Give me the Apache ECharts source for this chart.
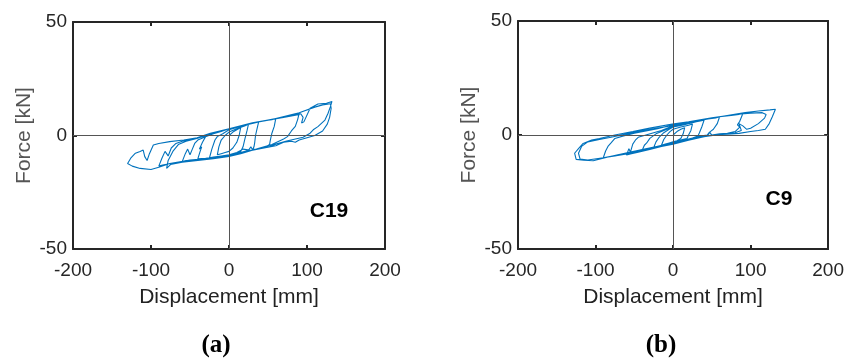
<!DOCTYPE html>
<html>
<head>
<meta charset="utf-8">
<script src="https://cdn.jsdelivr.net/npm/echarts@6/dist/echarts.min.js"></script>
<style>
html,body{margin:0;padding:0;background:#fff;}
#chart{width:847px;height:363px;}
</style>
</head>
<body>
<div id="chart"></div>
<script>
// Tick values
const xTicks = [-200, -100, 0, 100, 200];
const yTicks = [-50, 0, 50];

// Specimen C19: displacement [mm], force [kN] (hand-read path)
const c19 = [
  [0,0],[5,1.5],[10,2.5],[15,3.5],[13,0],[10,-3],[5,-5.5],[0,-7],[-5,-7.5],[-10,-8],[-15,-8.5],[-13,-5],[-10,-2],[-5,0],[0,1.5],
  [10,3],[20,4.2],[25,5],[23,2],[20,-2],[18,-5],[15,-7],[10,-7.5],[0,-8.5],[-10,-9],[-20,-9.5],[-25,-9.8],[-22,-6],[-18,-2],[-15,-0.5],[-8,0.8],[0,2.5],
  [10,3.5],[20,4.5],[30,5.3],[38,6],[36,3],[34,0],[33,-3],[32,-5],[30,-6.5],[20,-7.5],[10,-8.2],[0,-8.8],[-15,-9.5],[-30,-10],[-40,-10.3],[-37,-7],[-35,-5],[-38,-6],[-34,-3],[-30,-0.5],[-20,0.8],[-10,1.8],[0,3],
  [15,4],[30,5.5],[45,6.5],[55,7],[60,7.5],[58,4],[55,1],[53,-2],[52,-4],[45,-5.5],[35,-6],[30,-6.2],[28,-5],[25,-6.5],[15,-7.5],[0,-8.8],[-15,-9.5],[-30,-10.2],[-45,-10.8],[-55,-11],[-60,-11.5],[-56,-8],[-53,-6],[-50,-8.5],[-47,-6],[-44,-3.5],[-40,-2],[-30,-0.5],[-20,1],[-10,2],[0,3],
  [15,4.3],[30,5.6],[50,6.8],[70,8],[85,9.3],[90,9.8],[88,7],[85,4],[80,2],[75,-0.5],[70,-1.5],[55,-4],[45,-5],[35,-6],[28,-6.5],[18,-6],[10,-7.5],[0,-8.8],[-20,-9.8],[-40,-10.5],[-60,-11.5],[-75,-12.3],[-85,-13],[-90,-13.5],[-86,-10],[-82,-7],[-78,-9],[-74,-5.5],[-68,-3.5],[-60,-2.5],[-45,-1.5],[-30,-0.2],[-15,1.3],[0,3],
  [27,5.3],[52,6.8],[75,8.3],[87,9],[92,9.6],[95,8],[93,5.5],[96,6],[104,12],[114,13.9],[125,14.2],[132,15],[130,12.7],[127,9.8],[123,6.8],[114,3.9],[108,2.5],[104,1],[95,-0.8],[74,-2.4],[60,-3.8],[52,-4.9],[40,-5.8],[27,-6.7],[12,-8],[0,-9],[-24,-10],[-50,-10.8],[-76,-12.3],[-90,-14],[-100,-15],[-114,-14.5],[-124,-13.5],[-130,-12.3],[-126,-10],[-120,-7.8],[-114,-7],[-110,-6.4],[-108,-9.3],[-105,-11],[-102,-8],[-97,-4.2],[-90,-3.5],[-76,-2.7],[-58,-2],[-41,-1],[-24,1],[0,3],
  [30,5.5],[60,7.5],[90,10],[110,12.5],[120,13.5],[130,14],[131,12],[129,8],[126,5],[120,2],[110,0],[100,-1],[90,-2],[85,-3],[80,-2.5],[70,-3],[60,-4.5],[45,-5.5],[30,-6.5],[15,-8],[0,-9.2],[-20,-10.2],[-40,-11],[-60,-11.8],[-75,-12.8],[-80,-14.5],[-78,-11],[-72,-7],[-65,-4],[-55,-2.5],[-40,-1.2],[-25,0.8],[-10,2],[0,3]
];

// Specimen C9: displacement [mm], force [kN] (hand-read path)
const c9 = [
  [0,0],[5,1.5],[10,2.5],[15,3.2],[13,0.5],[10,-1.5],[5,-2.5],[0,-3],[-5,-3.5],[-10,-4],[-15,-4.5],[-12,-2],[-8,0],[-4,1.5],[0,2.5],
  [10,3.5],[20,4.3],[25,4.8],[23,2],[20,0],[18,-1.5],[12,-2],[5,-2.8],[0,-3.3],[-10,-4.2],[-20,-5],[-25,-5.5],[-22,-3],[-18,-1],[-12,1],[-5,2.5],[0,3.5],
  [10,4.2],[20,5],[30,5.8],[40,6.5],[37,3.5],[34,1],[32,-0.5],[25,-1.3],[15,-2.2],[5,-3],[0,-3.5],[-15,-4.8],[-30,-6],[-40,-6.8],[-37,-4.5],[-34,-3.5],[-30,-1.5],[-22,0.5],[-15,1.5],[-5,3],[0,4],
  [15,5],[30,6],[45,7],[55,7.5],[60,8],[57,5],[52,2.5],[48,1.5],[45,0],[35,-0.8],[25,-1.5],[15,-2.3],[0,-3.7],[-15,-5],[-30,-6.3],[-45,-7.5],[-55,-8.3],[-60,-8.8],[-57,-6],[-55,-7.5],[-52,-4],[-48,-2],[-45,-1],[-35,0],[-25,1],[-15,2],[0,4],
  [20,5.5],[40,6.8],[60,8],[75,8.6],[85,9],[90,9.4],[86,6],[83,4.5],[86,3.5],[80,1.5],[70,0.8],[60,0.5],[50,0],[47,1.3],[44,0],[35,-0.5],[20,-1.8],[0,-3.7],[-20,-5.3],[-40,-6.8],[-60,-8.3],[-75,-9.2],[-90,-10],[-87,-7],[-84,-5],[-80,-3.5],[-75,-1.5],[-65,-0.5],[-50,0.8],[-35,1.8],[-20,2.8],[0,4.5],
  [33,6.3],[60,8],[93,9.8],[110,10.5],[125,11],[132,11.3],[128,8],[124,5],[119,2.5],[110,2],[100,1.5],[85,0.7],[70,0.3],[50,0],[30,-1.3],[10,-3],[-1,-3.7],[-20,-5],[-52,-7.3],[-80,-9.3],[-103,-11.3],[-115,-11],[-125,-10.7],[-127,-8],[-122,-6],[-116,-3.7],[-105,-2.2],[-95,-1.5],[-75,0],[-52,1.5],[-30,3],[-1,4.8],
  [20,5.8],[50,7.5],[80,9],[100,9.6],[115,9.8],[120,9],[118,7.4],[110,5],[100,3],[95,2.5],[90,4],[85,5],[88,2],[80,1],[60,0.2],[40,-0.8],[20,-2.3],[0,-4],[-30,-6],[-60,-8],[-90,-10],[-110,-11],[-120,-10.5],[-122,-8],[-118,-5],[-110,-3],[-95,-2],[-80,-1],[-60,0.5],[-40,1.8],[-20,3],[0,4.2]
];

const panels = [
  {label: 'C19', sub: '(a)', data: c19},
  {label: 'C9', sub: '(b)', data: c9}
];

const FONT = '"Liberation Sans", Arial, Helvetica, sans-serif';
const SERIF = '"Liberation Serif", "DejaVu Serif", serif';
const INK = '#262626';
const grids = [
  {left: 73, top: 22, width: 312, height: 227},
  {left: 518, top: 21, width: 312, height: 228}
];

const xAxes = [], yAxes = [], series = [];
grids.forEach((g, i) => {
  const common = {
    type: 'value', gridIndex: i,
    axisLine: {show: true, onZero: false, lineStyle: {color: INK, width: 2}},
    axisTick: {show: true, inside: true, length: 4, lineStyle: {color: INK, width: 2}},
    splitLine: {show: false}
  };
  xAxes.push(Object.assign({}, common, {
    position: 'bottom', min: xTicks[0], max: xTicks[xTicks.length - 1], interval: 100,
    name: 'Displacement [mm]', nameLocation: 'middle', nameGap: 38,
    nameTextStyle: {fontFamily: FONT, fontSize: 21, color: '#222'},
    axisLabel: {show: true, margin: 12, fontFamily: FONT, fontSize: 19, color: INK}
  }));
  xAxes.push(Object.assign({}, common, {
    position: 'top', min: xTicks[0], max: xTicks[xTicks.length - 1], interval: 100,
    axisLabel: {show: false}
  }));
  yAxes.push(Object.assign({}, common, {
    position: 'left', min: yTicks[0], max: yTicks[yTicks.length - 1], interval: 50,
    name: 'Force [kN]', nameLocation: 'middle', nameGap: 38,
    nameTextStyle: {fontFamily: FONT, fontSize: 21, color: '#555'},
    axisLabel: {show: true, margin: 6, fontFamily: FONT, fontSize: 19, color: INK}
  }));
  yAxes.push(Object.assign({}, common, {
    position: 'right', min: yTicks[0], max: yTicks[yTicks.length - 1], interval: 50,
    axisLabel: {show: false}
  }));
  series.push({
    type: 'line', xAxisIndex: i * 2, yAxisIndex: i * 2,
    data: panels[i].data, showSymbol: false, symbol: 'none', smooth: false,
    lineStyle: {color: '#0072BD', width: 1.1},
    z: 3,
    markLine: {
      silent: true, symbol: ['none', 'none'], animation: false,
      label: {show: false},
      lineStyle: {color: '#555', width: 1, type: 'solid'},
      data: [{xAxis: 0}, {yAxis: 0}]
    }
  });
});

const chart = echarts.init(document.getElementById('chart'), null, {renderer: 'canvas'});
chart.setOption({
  animation: false,
  backgroundColor: '#fff',
  grid: grids,
  xAxis: xAxes,
  yAxis: yAxes,
  series: series,
  graphic: [
    {type: 'text', x: 329, y: 211, style: {text: panels[0].label, font: 'bold 21px ' + FONT, fill: '#000', align: 'center', verticalAlign: 'middle'}},
    {type: 'text', x: 779, y: 199, style: {text: panels[1].label, font: 'bold 21px ' + FONT, fill: '#000', align: 'center', verticalAlign: 'middle'}},
    {type: 'text', x: 216, y: 346, style: {text: panels[0].sub, font: 'bold 25px ' + SERIF, fill: '#000', align: 'center', verticalAlign: 'middle'}},
    {type: 'text', x: 661, y: 346, style: {text: panels[1].sub, font: 'bold 25px ' + SERIF, fill: '#000', align: 'center', verticalAlign: 'middle'}}
  ]
});
</script>
</body>
</html>
